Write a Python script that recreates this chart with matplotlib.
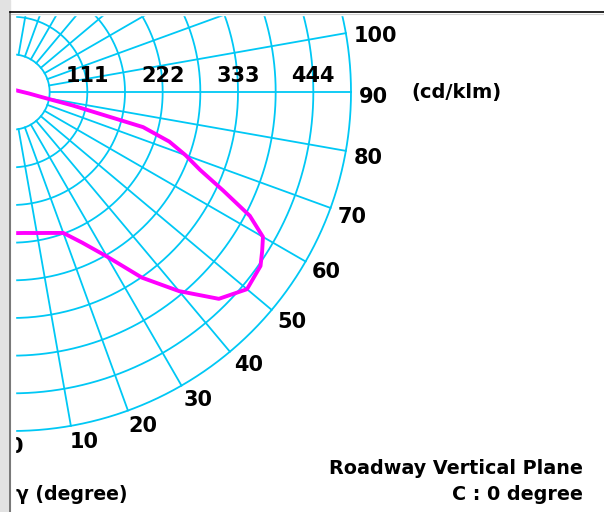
import numpy as np
import matplotlib.pyplot as plt
from matplotlib.patches import Rectangle
from matplotlib.lines import Line2D

# vertical angle gamma (deg) and intensity (cd/klm), C0 half of the plane
gamma = [0, 5, 10, 15, 20, 25, 30, 35, 40, 45, 50, 55, 57.5, 60, 62.5, 65,
         67.5, 70, 72.5, 75, 77.5, 80, 85, 90]
intensity = [208, 208.5, 211, 215, 221, 245, 280, 334, 383, 431, 452, 447, 437,
             427, 395, 343, 300, 272, 243, 200, 91, 47, 25, 16]
# C180 half: only the two ends running off past the frame
gamma_c180 = [20, 110]
intensity_c180 = [221, 35]

ring_step = 55.5
ring_count = 9
ring_labels = ["111", "222", "333", "444"]
angle_labels = [0, 10, 20, 30, 40, 50, 60, 70, 80, 90, 100]

W, H = 604, 512
cx, cy, R = 12, 92, 339   # pole and outer ring radius, pixels from top-left

grid_col = "#00c8f5"
curve_col = "#ff00ff"

fig = plt.figure(figsize=(W / 100, H / 100), dpi=100, facecolor="white")
ax = fig.add_axes([(cx - R) / W, (H - cy - R) / H, 2 * R / W, 2 * R / H],
                  projection="polar")
ax.set_theta_zero_location("S")
ax.set_theta_direction(1)
rmax = ring_step * ring_count
ax.set_ylim(0, rmax)
ax.set_xticks([])
ax.set_yticks([])
ax.grid(False)
ax.spines["polar"].set_visible(False)
ax.patch.set_visible(False)

# rings and spokes
t = np.linspace(0, 2 * np.pi, 721)
for k in range(1, ring_count + 1):
    ax.plot(t, np.full_like(t, k * ring_step), color=grid_col, lw=1.3, clip_on=False)
for a in range(0, 190, 10):
    ax.plot([np.radians(a)] * 2, [ring_step, rmax], color=grid_col, lw=1.3, clip_on=False)

# intensity curve
th = np.radians([-gamma_c180[0]] + gamma + [-gamma_c180[1]])
rr = [intensity_c180[0]] + intensity + [intensity_c180[1]]
ax.plot(th, rr, color=curve_col, lw=2.8, clip_on=False, solid_joinstyle="round", zorder=3)

# angle labels just outside the outer ring
r_lab = 350 * rmax / R
for a in angle_labels:
    ax.annotate(str(a), xy=(np.radians(a), r_lab), xytext=(-3, -11),
                textcoords="offset pixels", ha="left", va="baseline",
                fontsize=15, fontweight="bold", annotation_clip=False)

# ring values above the 90 degree spoke
for lab in ring_labels:
    ax.annotate(lab, xy=(np.radians(90), float(lab)), xytext=(0, 10),
                textcoords="offset pixels", ha="center", va="baseline",
                fontsize=15, fontweight="bold", annotation_clip=False)


def fx(x):
    return x / W


def fy(y):
    return 1 - y / H


fig.text(fx(411), fy(92.5), "(cd/klm)", ha="left", va="center",
         fontsize=14, fontweight="bold")
fig.text(fx(583), fy(474), "Roadway Vertical Plane", ha="right", va="baseline",
         fontsize=13.8, fontweight="bold")
fig.text(fx(583), fy(500), "C : 0 degree", ha="right", va="baseline",
         fontsize=13.8, fontweight="bold")
fig.text(fx(16), fy(500), "γ (degree)", ha="left", va="baseline",
         fontsize=13.6, fontweight="bold")

# window frame on the top and left
tf = fig.transFigure
fig.add_artist(Rectangle((0, fy(14.5)), 1, 14.5 / H, transform=tf, color="white", zorder=10))
fig.add_artist(Rectangle((0, 0), fx(14.5), 1, transform=tf, color="white", zorder=10))
fig.add_artist(Rectangle((0, 0), fx(9.5), 1, transform=tf, color="#e2e2e2", zorder=11))
fig.add_artist(Line2D([fx(10), fx(10)], [0, fy(12)], transform=tf, color="#5a5a5a", lw=1.1, zorder=12))
fig.add_artist(Line2D([fx(10), 1], [fy(12), fy(12)], transform=tf, color="black", lw=1.2, zorder=12))
fig.add_artist(Line2D([fx(11), 1], [fy(14), fy(14)], transform=tf, color="#d0d0d0", lw=0.8, zorder=12))

fig.savefig("out.png", dpi=100, facecolor="white")
